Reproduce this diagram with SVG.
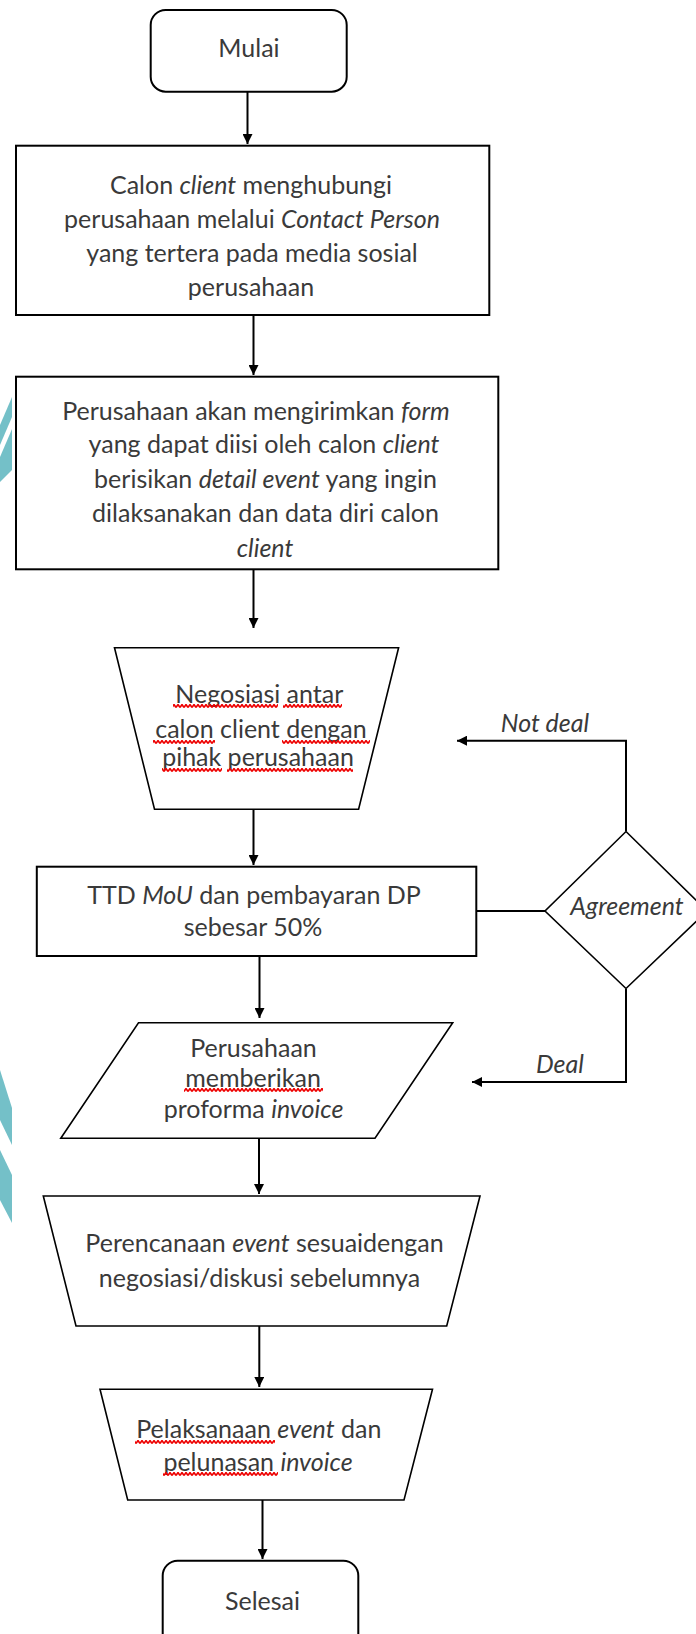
<svg xmlns="http://www.w3.org/2000/svg" width="696" height="1634" viewBox="0 0 696 1634">
<style>
.n{fill:#fff;stroke:#000;stroke-width:2}
.d{fill:#fff;stroke:#000;stroke-width:1.6}
.c{fill:none;stroke:#000;stroke-width:2}
.t{font-family:Lato,"Liberation Sans",sans-serif;font-size:25px;fill:#3a3a3a;text-anchor:middle}
.i{font-style:italic}
.sq{fill:url(#squig)}
.teal{fill:#74c0c8}
</style>
<defs>
<marker id="ah" markerUnits="userSpaceOnUse" markerWidth="10" markerHeight="10" refX="10" refY="5" orient="auto">
<path d="M0,0 L10,5 L0,10 z" fill="#000"/>
</marker>
<pattern id="squig" patternUnits="userSpaceOnUse" width="4" height="4">
<path d="M0,3.5 L2,0.5 L4,3.5" fill="none" stroke="#ee0000" stroke-width="1.6"/>
</pattern>
</defs>
<rect width="696" height="1634" fill="#fff"/>
<g id="decor">
<polygon class="teal" points="0,425 12,397 12,417 0,445"/>
<polygon class="teal" points="0,457 12,429 12,470 0,482"/>
<polygon class="teal" points="0,1070 12,1108 12,1145 0,1120"/>
<polygon class="teal" points="0,1150 12,1175 12,1223 0,1200"/>
</g>
<g id="connectors">
<line class="c" x1="247.5" y1="92" x2="247.5" y2="144" marker-end="url(#ah)"/>
<line class="c" x1="253.5" y1="315" x2="253.5" y2="375" marker-end="url(#ah)"/>
<line class="c" x1="253.5" y1="569" x2="253.5" y2="628" marker-end="url(#ah)"/>
<line class="c" x1="253.5" y1="809" x2="253.5" y2="865" marker-end="url(#ah)"/>
<line class="c" x1="259.5" y1="956" x2="259.5" y2="1018" marker-end="url(#ah)"/>
<line class="c" x1="259" y1="1138" x2="259" y2="1194" marker-end="url(#ah)"/>
<line class="c" x1="259.3" y1="1326" x2="259.3" y2="1387" marker-end="url(#ah)"/>
<line class="c" x1="262.5" y1="1500" x2="262.5" y2="1559" marker-end="url(#ah)"/>
<line class="c" x1="476" y1="911" x2="545" y2="911"/>
<polyline class="c" points="626,831 626,740.7 457,740.7" marker-end="url(#ah)"/>
<polyline class="c" points="626,989 626,1082 472,1082" marker-end="url(#ah)"/>
<text class="t i" x="545" y="732">Not deal</text>
<text class="t i" x="560" y="1073">Deal</text>
</g>
<g id="mulai">
<rect class="n" x="150.7" y="10" width="196" height="81.7" rx="15"/>
<text class="t" x="249" y="57">Mulai</text>
</g>
<g id="hubungi">
<rect class="n" x="16" y="145.7" width="473.3" height="169.3"/>
<text class="t" x="251" y="193.5">Calon <tspan class="i">client</tspan> menghubungi</text>
<text class="t" x="252" y="227.7">perusahaan melalui <tspan class="i">Contact Person</tspan></text>
<text class="t" x="252" y="261.7">yang tertera pada media sosial</text>
<text class="t" x="251" y="296">perusahaan</text>
</g>
<g id="form">
<rect class="n" x="16" y="376.7" width="482.3" height="192.6"/>
<text class="t" x="256" y="420">Perusahaan akan mengirimkan <tspan class="i">form</tspan></text>
<text class="t" x="264" y="453.3">yang dapat diisi oleh calon <tspan class="i">client</tspan></text>
<text class="t" x="265.5" y="487.7">berisikan <tspan class="i">detail event</tspan> yang ingin</text>
<text class="t" x="265.5" y="521.7">dilaksanakan dan data diri calon</text>
<text class="t i" x="265" y="556.7">client</text>
</g>
<g id="negosiasi">
<polygon class="d" points="114.5,647.7 398.6,647.7 358.6,809.3 154.5,809.3"/>
<text class="t" x="259.3" y="703">Negosiasi antar</text>
<text class="t" x="261" y="738">calon client dengan</text>
<text class="t" x="258" y="766">pihak perusahaan</text>
<rect class="sq" x="173" y="704" width="105" height="4"/>
<rect class="sq" x="283" y="704" width="59" height="4"/>
<rect class="sq" x="153" y="740" width="62" height="4"/>
<rect class="sq" x="282" y="740" width="88" height="4"/>
<rect class="sq" x="162" y="768" width="60" height="4"/>
<rect class="sq" x="227" y="768" width="126" height="4"/>
</g>
<g id="ttd">
<rect class="n" x="36.8" y="866.7" width="439.5" height="89.3"/>
<text class="t" x="254" y="904">TTD <tspan class="i">MoU</tspan> dan pembayaran DP</text>
<text class="t" x="253" y="936">sebesar 50%</text>
</g>
<g id="agreement">
<polygon class="d" points="626,831.5 707,911 626,988.5 545,911"/>
<text class="t i" x="627" y="915">Agreement</text>
</g>
<g id="invoice">
<polygon class="d" points="138.5,1022.7 452.7,1022.7 375,1138.3 60.8,1138.3"/>
<text class="t" x="253.5" y="1056.7">Perusahaan</text>
<text class="t" x="253" y="1087">memberikan</text>
<text class="t" x="253.5" y="1118">proforma <tspan class="i">invoice</tspan></text>
<rect class="sq" x="184" y="1088" width="139" height="4"/>
</g>
<g id="perencanaan">
<polygon class="d" points="43.3,1196 480,1196 446.7,1326 76,1326"/>
<text class="t" x="264.5" y="1251.7">Perencanaan <tspan class="i">event</tspan> sesuaidengan</text>
<text class="t" x="259.5" y="1286.7">negosiasi/diskusi sebelumnya</text>
</g>
<g id="pelaksanaan">
<polygon class="d" points="100,1389.3 432.5,1389.3 404,1500 127.7,1500"/>
<text class="t" x="258.8" y="1438">Pelaksanaan <tspan class="i">event</tspan> dan</text>
<text class="t" x="258" y="1471">pelunasan <tspan class="i">invoice</tspan></text>
<rect class="sq" x="135" y="1440" width="140" height="4"/>
<rect class="sq" x="163" y="1472" width="115" height="4"/>
</g>
<g id="selesai">
<rect class="n" x="162.7" y="1560.7" width="195.6" height="100" rx="15"/>
<text class="t" x="262.5" y="1610">Selesai</text>
</g>
</svg>
